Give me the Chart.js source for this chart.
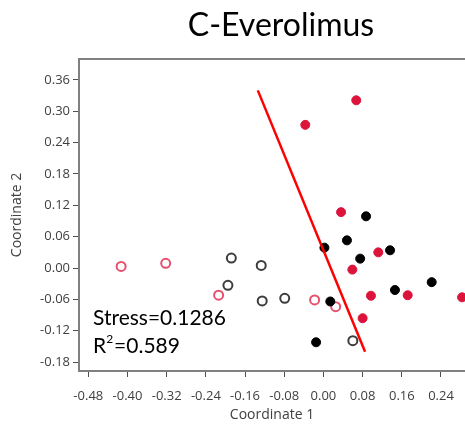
<!DOCTYPE html>
<html lang="en">
<head>
    <meta charset="UTF-8">
    <title>C-Everolimus</title>
    <script src="https://cdn.jsdelivr.net/npm/chart.js"></script>
    <style>
        html, body { margin: 0; padding: 0; background: #fff; }
        #chart-container { width: 465px; height: 428px; }
    </style>
</head>
<body>
    <div id="chart-container">
        <canvas id="myChart"></canvas>
    </div>
<script>
// Values
const redFilledX = [-0.037, 0.067, 0.036, 0.112, 0.059, 0.097, 0.172, 0.283, 0.080]
const redFilledY = [0.274, 0.321, 0.107, 0.030, -0.003, -0.053, -0.052, -0.056, -0.096]

const blackFilledX = [0.087, 0.048, 0.002, 0.136, 0.075, 0.221, 0.146, 0.014, -0.015]
const blackFilledY = [0.099, 0.053, 0.039, 0.034, 0.018, -0.027, -0.042, -0.064, -0.142]

const redOpenX = [-0.413, -0.322, -0.214, -0.018, 0.025]
const redOpenY = [0.003, 0.009, -0.052, -0.061, -0.074]

const blackOpenX = [-0.188, -0.127, -0.195, -0.125, -0.079, 0.060]
const blackOpenY = [0.019, 0.005, -0.033, -0.063, -0.058, -0.139]

// separating line
const lineX = [-0.134, 0.085]
const lineY = [0.340, -0.160]

const xTicks = [-0.48, -0.40, -0.32, -0.24, -0.16, -0.08, 0.00, 0.08, 0.16, 0.24]
const yTicks = [-0.18, -0.12, -0.06, 0.00, 0.06, 0.12, 0.18, 0.24, 0.30, 0.36]

const titleText = "C-Everolimus"
const stressText = "Stress=0.1286"
const rsqValue = "=0.589"

// zip x and y lists into points
function toPoints(xs, ys) {
    return xs.map((x, i) => ({ x: x, y: ys[i] }))
}

// Draws frame, title and the stress / R² note
const extrasPlugin = {
    id: "extras",
    afterDraw(chart) {
        const ctx = chart.ctx
        const a = chart.chartArea
        ctx.save()
        // top border of the frame
        ctx.strokeStyle = "#808080"
        ctx.lineWidth = 2
        ctx.beginPath()
        ctx.moveTo(a.left, a.top)
        ctx.lineTo(a.right + 2, a.top)
        ctx.stroke()

        // title
        ctx.fillStyle = "#000"
        ctx.font = "32px Lato"
        ctx.textAlign = "center"
        ctx.textBaseline = "alphabetic"
        ctx.fillText(titleText, 281, 36)

        // stress note
        ctx.textAlign = "left"
        ctx.font = "21px Lato"
        ctx.fillText(stressText, 93, 325)
        ctx.fillText("R", 93, 353)
        let w = ctx.measureText("R").width
        ctx.font = "12px Lato"
        ctx.fillText("2", 93 + w, 343)
        let w2 = ctx.measureText("2").width
        ctx.font = "21px Lato"
        ctx.fillText(rsqValue, 93 + w + w2 + 1, 353)
        ctx.restore()
    }
}

const ctx = document.getElementById("myChart")

new Chart(ctx, {
    type: "scatter",
    data: {
        datasets: [
            {
                type: "line",
                data: toPoints(lineX, lineY),
                borderColor: "#ff0000",
                borderWidth: 2.5,
                pointRadius: 0,
                fill: false
            },
            {
                data: toPoints(redFilledX, redFilledY),
                backgroundColor: "#dc143c",
                borderColor: "#dc143c",
                pointRadius: 4.5,
                borderWidth: 1
            },
            {
                data: toPoints(blackFilledX, blackFilledY),
                backgroundColor: "#000",
                borderColor: "#000",
                pointRadius: 4.5,
                borderWidth: 1
            },
            {
                data: toPoints(redOpenX, redOpenY),
                backgroundColor: "rgba(0,0,0,0)",
                borderColor: "#e6506e",
                pointRadius: 4.5,
                borderWidth: 2
            },
            {
                data: toPoints(blackOpenX, blackOpenY),
                backgroundColor: "rgba(0,0,0,0)",
                borderColor: "#3c3c3c",
                pointRadius: 4.5,
                borderWidth: 2
            }
        ]
    },
    options: {
        responsive: true,
        maintainAspectRatio: false,
        animation: false,
        clip: false,
        layout: { autoPadding: false, padding: { top: 59, left: 0, right: 0, bottom: 0 } },
        plugins: {
            legend: { display: false },
            tooltip: { enabled: false }
        },
        scales: {
            x: {
                type: "linear",
                min: -0.499,
                max: 0.289,
                afterBuildTicks: (axis) => { axis.ticks = xTicks.map(v => ({ value: v })) },
                afterFit: (axis) => { axis.height = 57; axis.paddingLeft = 0; axis.paddingRight = 0 },
                ticks: {
                    color: "#404040",
                    font: { family: "Open Sans", size: 13 },
                    padding: 11,
                    maxRotation: 0,
                    callback: (v) => Number(v).toFixed(2)
                },
                grid: {
                    drawOnChartArea: false,
                    drawTicks: true,
                    tickLength: 6,
                    color: "#505050",
                    lineWidth: 1
                },
                border: { display: true, color: "#808080", width: 2 },
                title: {
                    display: true,
                    text: "Coordinate 1",
                    color: "#404040",
                    font: { family: "Open Sans", size: 14 },
                    padding: { top: 4, bottom: 5 }
                }
            },
            y: {
                type: "linear",
                min: -0.197,
                max: 0.400,
                afterBuildTicks: (axis) => { axis.ticks = yTicks.map(v => ({ value: v })) },
                afterFit: (axis) => { axis.width = 79; axis.paddingTop = 0; axis.paddingBottom = 0 },
                ticks: {
                    color: "#404040",
                    font: { family: "Open Sans", size: 13 },
                    padding: 3,
                    callback: (v) => Number(v).toFixed(2)
                },
                grid: {
                    drawOnChartArea: false,
                    drawTicks: true,
                    tickLength: 6,
                    color: "#505050",
                    lineWidth: 1
                },
                border: { display: true, color: "#808080", width: 2 },
                title: {
                    display: true,
                    text: "Coordinate 2",
                    color: "#404040",
                    font: { family: "Open Sans", size: 14 },
                    padding: { top: 9, bottom: 4 }
                }
            }
        }
    },
    plugins: [extrasPlugin]
})
</script>
</body>
</html>
